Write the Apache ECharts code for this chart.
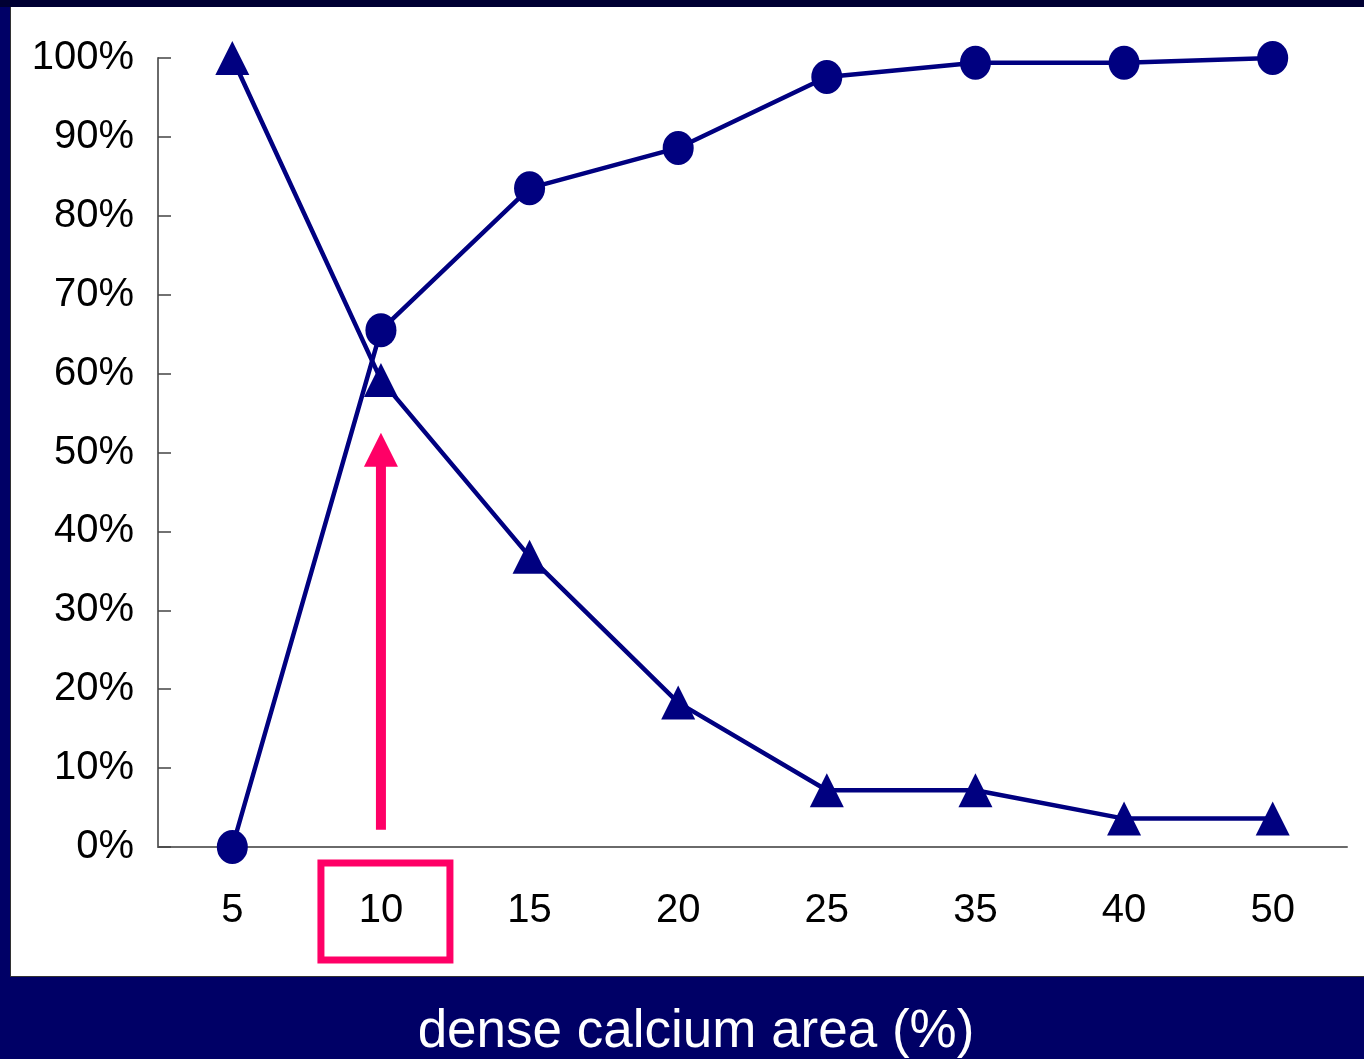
<!DOCTYPE html>
<html><head><meta charset="utf-8">
<script src="https://cdn.jsdelivr.net/npm/echarts@6/dist/echarts.min.js"></script>
<style>html,body{margin:0;padding:0;background:#000066;}#c{width:1364px;height:1059px;}</style>
</head><body><div id="c"></div>
<script>
const categories = ['5','10','15','20','25','35','40','50'];
const circleSeries = [0, 65.5, 83.5, 88.6, 97.6, 99.4, 99.4, 100];
const triangleSeries = [100, 59.2, 36.8, 18.3, 7.2, 7.2, 3.6, 3.6];
const yTicks = [0,10,20,30,40,50,60,70,80,90,100];
const arrowCategory = '10';
const arrowFrom = 2.2, arrowTo = 52.5;
const titleText = 'dense calcium area (%)';

const chart = echarts.init(document.getElementById('c'), null, {renderer:'canvas'});
const navy = '#000080';
const font = 'Liberation Sans';
const baseGraphic = [
  {type:'rect', z:-10, shape:{x:0,y:0,width:1364,height:7}, style:{fill:'#000033'}},
  {type:'rect', z:-9, shape:{x:10,y:7,width:1354,height:970}, style:{fill:'#333333'}},
  {type:'rect', z:-8, shape:{x:11,y:7,width:1353,height:969}, style:{fill:'#ffffff'}},
  {type:'text', x:696, y:1032, style:{text:titleText, fill:'#ffffff', align:'center', verticalAlign:'middle', font:'53px "Liberation Sans", sans-serif'}}
];
chart.setOption({
  backgroundColor: '#000066',
  animation: false,
  grid: {left: 158, right: 17, top: 58, bottom: 212, containLabel: false},
  graphic: baseGraphic,
  xAxis: {
    type:'category', data: categories, boundaryGap: true,
    axisLine:{lineStyle:{color:'#6a6a6a', width:2}},
    axisTick:{inside:true, length:8, lineStyle:{color:'#444444', width:1.5}},
    axisLabel:{fontSize:40, color:'#000', fontFamily:font, margin:44}
  },
  yAxis: {
    type:'value', min:0, max:100, interval:10,
    splitLine:{show:false},
    axisLine:{show:true, lineStyle:{color:'#6a6a6a', width:2}},
    axisTick:{show:true, inside:true, length:13, lineStyle:{color:'#444444', width:1.5}},
    axisLabel:{fontSize:40, color:'#000', fontFamily:font, margin:24, formatter: v => yTicks.includes(v) ? v + '%' : ''}
  },
  series: [
    {type:'line', data: circleSeries, symbol:'circle', symbolSize:[31,34], lineStyle:{color:navy, width:4.5}, itemStyle:{color:navy}, z:3},
    {type:'line', data: triangleSeries, symbol:'triangle', symbolSize:[34,34], lineStyle:{color:navy, width:4.5}, itemStyle:{color:navy}, z:3}
  ]
});

function drawAnnotations(){
  const pBot = chart.convertToPixel({xAxisIndex:0, yAxisIndex:0}, [arrowCategory, arrowFrom]);
  const pTop = chart.convertToPixel({xAxisIndex:0, yAxisIndex:0}, [arrowCategory, arrowTo]);
  const p0 = chart.convertToPixel({xAxisIndex:0, yAxisIndex:0}, [arrowCategory, 0]);
  const x = pBot[0];
  const headH = 34, headW = 34, shaftW = 10;
  chart.setOption({graphic: baseGraphic.concat([
    {type:'rect', z:5, shape:{x:x-shaftW/2, y:pTop[1]+headH-2, width:shaftW, height:pBot[1]-pTop[1]-headH+2}, style:{fill:'#ff0066'}},
    {type:'polygon', z:5, shape:{points:[[x,pTop[1]],[x-headW/2,pTop[1]+headH],[x+headW/2,pTop[1]+headH]]}, style:{fill:'#ff0066'}},
    {type:'rect', z:5, shape:{x:x-60, y:p0[1]+16, width:129, height:97}, style:{fill:'none', stroke:'#ff0066', lineWidth:7}}
  ])}, {replaceMerge:['graphic']});
}
drawAnnotations();
</script></body></html>
